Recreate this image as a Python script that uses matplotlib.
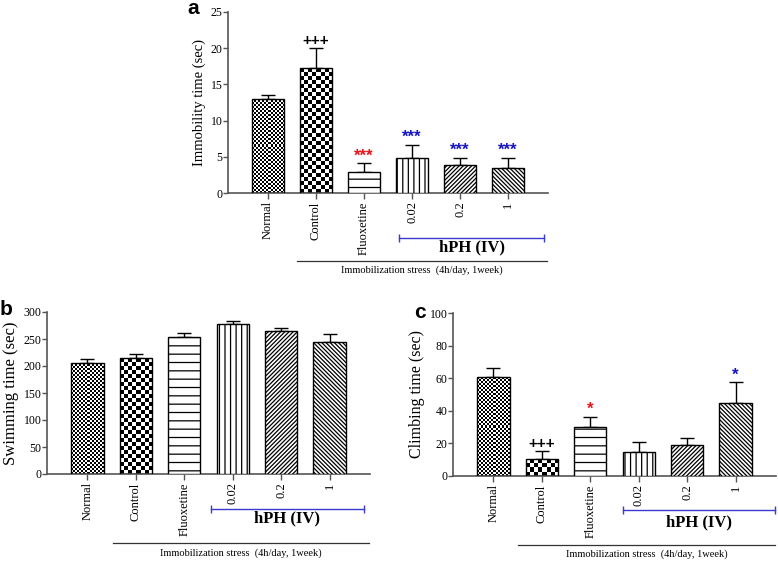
import numpy as np
import matplotlib
matplotlib.use("Agg")
import matplotlib.pyplot as plt

plt.rcParams['font.family'] = ['Liberation Serif', 'DejaVu Serif']
plt.rcParams['hatch.linewidth'] = 0.9

categories = ["Normal", "Control", "Fluoxetine", "0.02", "0.2", "1"]

immobility_mean = [13.0, 17.2, 2.9, 4.8, 3.8, 3.5]
immobility_err = [0.5, 2.8, 1.2, 1.8, 1.1, 1.3]
immobility_marks = ["", "+++", "***", "***", "***", "***"]

swimming_mean = [206, 214, 254, 277, 264, 245]
swimming_err = [7, 9, 8, 6, 7, 14]
swimming_marks = ["", "", "", "", "", ""]

climbing_mean = [60.5, 10.5, 30.0, 15.0, 19.0, 44.5]
climbing_err = [6.0, 5.0, 6.5, 6.0, 4.5, 13.0]
climbing_marks = ["", "+++", "*", "", "", "*"]

mark_colors = ["black", "black", "#e8141c", "#1414c8", "#1414c8", "#1414c8"]
# pattern per bar: ('checker', square px) or hatch string
patterns = [("checker", 2), ("checker", 4), "--", "|||", "////////", "\\" * 8]

W, H = 778, 562
fig = plt.figure(figsize=(W / 100, H / 100), dpi=100)


def px_axes(left, top, right, bottom):
    return fig.add_axes([left / W, 1 - bottom / H, (right - left) / W, (bottom - top) / H])


def panel(ax, means, errs, marks, ylim, yticks, ylabel, ylsize, hph, immob):
    x = np.arange(len(categories))
    ax.set_xlim(-0.833, len(categories) - 1 + 0.833)
    ax.set_ylim(*ylim)
    bars = ax.bar(x, means, width=0.667, facecolor="white", edgecolor="black",
                  linewidth=1.0, zorder=3)
    for b, pat in zip(bars, patterns):
        if isinstance(pat, tuple):
            b.set_facecolor("none")
            x0, y0 = b.get_x(), b.get_y()
            w, h = b.get_width(), b.get_height()
            p0 = ax.transData.transform((x0, y0))
            p1 = ax.transData.transform((x0 + w, y0 + h))
            nx = max(1, int(round(abs(p1[0] - p0[0]) / pat[1])))
            ny = max(1, int(round(abs(p1[1] - p0[1]) / pat[1])))
            arr = np.indices((ny, nx)).sum(axis=0) % 2
            im = ax.imshow(arr, cmap="gray", extent=[x0, x0 + w, y0, y0 + h],
                           interpolation="nearest", aspect="auto", zorder=2,
                           origin="lower")
            im.set_clip_path(b)
        else:
            b.set_hatch(pat)
    ax.set_xlim(-0.833, len(categories) - 1 + 0.833)
    ax.set_ylim(*ylim)
    ax.errorbar(x, means, yerr=[np.zeros(len(errs)), errs], fmt="none",
                ecolor="black", elinewidth=1.0, capsize=5, capthick=1.0, zorder=1)
    for xi, m, e, t, c in zip(x, means, errs, marks, mark_colors):
        if t:
            ax.annotate(t, (xi, m + e), xytext=(0, 0), textcoords="offset points",
                        ha="center", va="bottom", color=c,
                        fontsize=11 if t.startswith("+") else 12,
                        fontweight="bold", family=["Liberation Sans"])
    ax.set_yticks(yticks)
    ax.set_xticks(x)
    ax.set_xticklabels(categories, rotation=90, fontsize=9)
    ax.tick_params(axis="y", labelsize=8.5, length=3.5, width=1, color="#555555", pad=0.5)
    ax.tick_params(axis="x", length=4, width=1, color="#555555", pad=2)
    for s in ["top", "right"]:
        ax.spines[s].set_visible(False)
    for s in ["left", "bottom"]:
        ax.spines[s].set_color("#555555")
        ax.spines[s].set_linewidth(1.2)
    ax.set_ylabel(ylabel, fontsize=ylsize, labelpad=3)

    # hPH group line
    (hx0, hx1, hy, hty) = hph
    ax.plot([hx0, hx1], [hy, hy], transform=ax.transAxes, clip_on=False,
            color="#3a3ad0", lw=1.0, marker="|", markersize=6, markeredgewidth=1.0)
    ax.text((hx0 + hx1) / 2, hty, "hPH (IV)", transform=ax.transAxes, ha="center",
            va="center", fontsize=12, fontweight="bold")
    (ix0, ix1, iy, ity) = immob
    ax.plot([ix0, ix1], [iy, iy], transform=ax.transAxes, clip_on=False,
            color="#333333", lw=0.9)
    ax.text((ix0 + ix1) / 2, ity, "Immobilization stress  (4h/day, 1week)",
            transform=ax.transAxes, ha="center", va="center", fontsize=7.5)


axa = px_axes(228, 12, 548, 193)
panel(axa, immobility_mean, immobility_err, immobility_marks, (0, 25),
      [0, 5, 10, 15, 20, 25], "Immobility time (sec)", 10.5,
      (0.534, 0.988, -0.249, -0.300), (0.216, 0.997, -0.376, -0.425))

axb = px_axes(47, 312, 370, 474)
panel(axb, swimming_mean, swimming_err, swimming_marks, (0, 300),
      [0, 50, 100, 150, 200, 250, 300], "Swimming time (sec)", 12,
      (0.508, 0.981, -0.216, -0.275), (0.204, 0.997, -0.426, -0.488))

axc = px_axes(453, 313, 776, 476)
panel(axc, climbing_mean, climbing_err, climbing_marks, (0, 100),
      [0, 20, 40, 60, 80, 100], "Climbing time (sec)", 11.5,
      (0.526, 0.998, -0.209, -0.284), (0.201, 0.997, -0.423, -0.479))

for lbl, px, py in [("a", 187, 14), ("b", 0, 315), ("c", 414, 318)]:
    fig.text(px / W, 1 - py / H, lbl, fontsize=15, fontweight="bold",
             family=["Liberation Sans"], ha="left", va="baseline")

fig.savefig("out.png", dpi=100)
